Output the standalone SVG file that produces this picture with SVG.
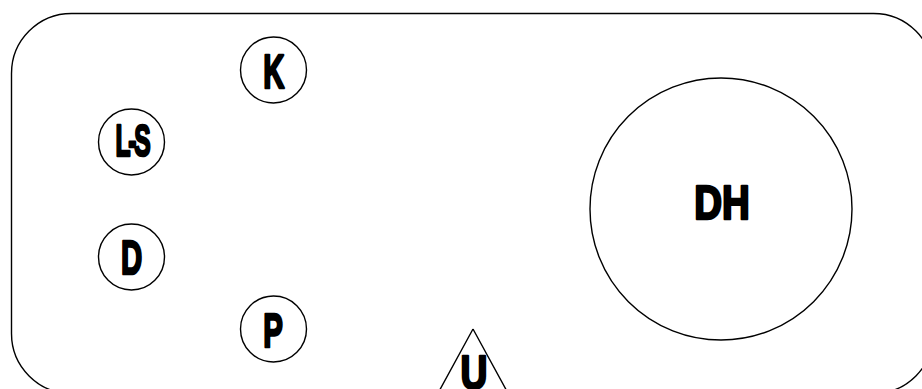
<svg xmlns="http://www.w3.org/2000/svg" width="922" height="389" viewBox="0 0 922 389">
<style>
.s{fill:none;stroke:#000;stroke-width:1.4}
.t{font-family:"Liberation Sans",Arial,sans-serif;font-weight:bold;fill:#000;stroke:#000;stroke-width:2.6;stroke-linejoin:round;text-anchor:middle}
</style>
<rect width="922" height="389" fill="#fff"/>
<rect id="frame" class="s" x="11.5" y="13.5" width="922" height="380" rx="60" ry="60"/>
<g id="K"><circle class="s" cx="273.5" cy="70" r="33"/><text class="t" transform="translate(273.8,88) scale(0.6,1)" font-size="49">K</text></g>
<g id="LS"><circle class="s" cx="131.5" cy="142" r="33"/><text class="t" transform="translate(132,155.5) scale(0.56,1)" font-size="44" letter-spacing="-4">L-S</text></g>
<g id="D"><circle class="s" cx="131.5" cy="257" r="33"/><text class="t" transform="translate(131.5,274) scale(0.6,1)" font-size="49">D</text></g>
<g id="P"><circle class="s" cx="273.5" cy="329" r="33"/><text class="t" transform="translate(273,347) scale(0.6,1)" font-size="49">P</text></g>
<g id="DH"><circle class="s" cx="721" cy="209" r="131"/><text class="t" transform="translate(722,219) scale(0.8,1)" font-size="48">DH</text></g>
<g id="U"><path class="s" d="M473,329 L437,395 M473,329 L509,395"/><text class="t" transform="translate(474,389) scale(0.76,1)" font-size="49">U</text></g>
<g id="connectors"></g>
</svg>
